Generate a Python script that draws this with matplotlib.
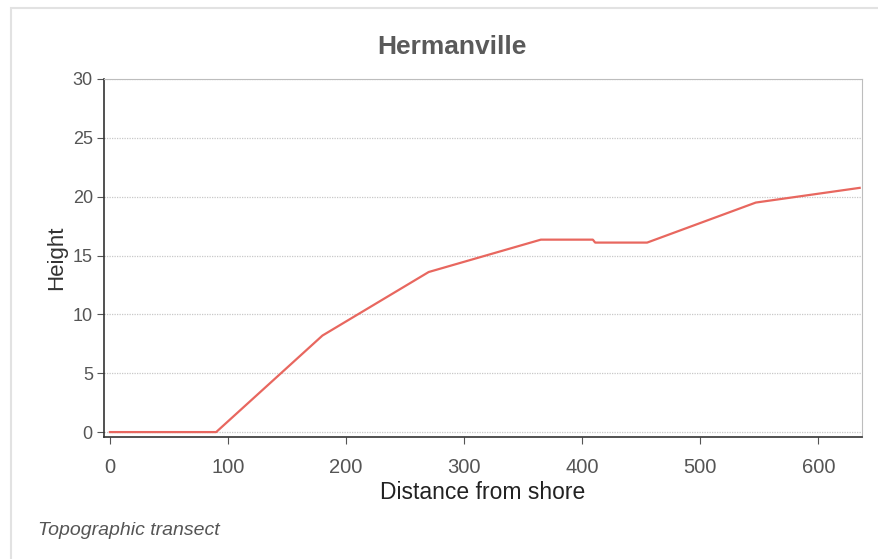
"""Topographic transect for Hermanville."""

import matplotlib.pyplot as plt
from matplotlib.patches import Rectangle

# distance from shore and height along the transect
distance = [0, 90, 180, 270, 365, 409, 411, 455, 547, 635]
height = [0, 0, 8.2, 13.6, 16.35, 16.35, 16.1, 16.1, 19.5, 20.75]

y_ticks = [0, 5, 10, 15, 20, 25, 30]
x_ticks = [0, 100, 200, 300, 400, 500, 600]

plt.rcParams["font.family"] = ["Liberation Sans", "DejaVu Sans"]

fig = plt.figure(figsize=(8.79, 5.59), dpi=100)
# light frame round the whole chart
fig.patches.append(
    Rectangle((0.012, -0.01), 1.0, 0.996, transform=fig.transFigure,
              fill=False, edgecolor="#e2e2e2", linewidth=1.5)
)

ax = fig.add_axes([0.1183, 0.2182, 0.8624, 0.6405])
ax.plot(distance, height, color="#e8675f", linewidth=1.6)

ax.set_xlim(-5, 637)
ax.set_ylim(-0.42, 30)
ax.set_xticks(x_ticks)
ax.set_yticks(y_ticks)
ax.grid(axis="y", color="#c8c8c8", linestyle=(0, (1, 1)), linewidth=0.9)

for side in ["top", "right"]:
    ax.spines[side].set_color("#bdbdbd")
for side in ["left", "bottom"]:
    ax.spines[side].set_color("#333333")
    ax.spines[side].set_linewidth(1.2)

ax.tick_params(direction="out", length=5, colors="#555555")
ax.tick_params(axis="x", pad=10, labelsize=14.5)
ax.tick_params(axis="y", pad=3, labelsize=13)

fig.text(0.514, 0.916, "Hermanville", fontsize=19, fontweight="bold",
         color="#5a5a5a", ha="center", va="center")
ax.set_xlabel("Distance from shore", fontsize=16.5, color="#222222", labelpad=3)
ax.set_ylabel("Height", fontsize=16, color="#333333", labelpad=4)

fig.text(0.043, 0.043, "Topographic transect", fontsize=14, style="italic",
         color="#555555")

fig.savefig("out.png", dpi=100)
